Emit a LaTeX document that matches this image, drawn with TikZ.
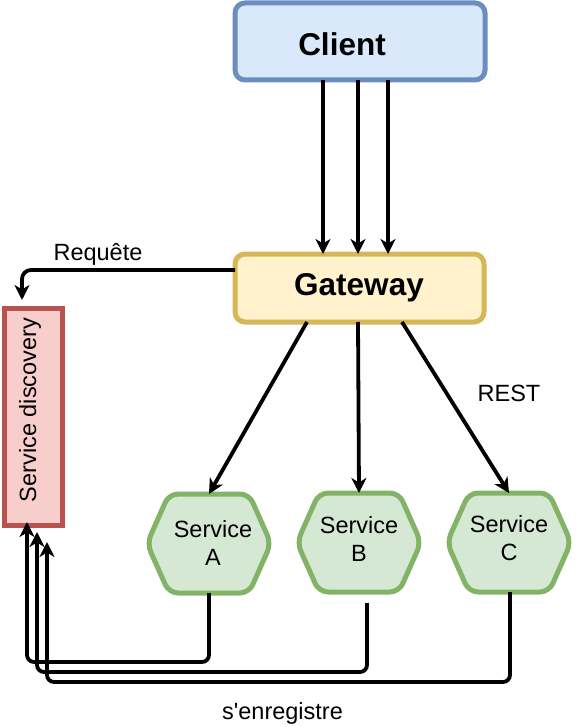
\documentclass[tikz,border=0pt]{standalone}
\usepackage{fontspec}
\setmainfont{Liberation Sans}[Ligatures=TeXOff]
\usetikzlibrary{arrows.meta}
\definecolor{clientfill}{HTML}{DAE8FC}
\definecolor{clientdraw}{HTML}{6C8EBF}
\definecolor{gatefill}{HTML}{FFF2CC}
\definecolor{gatedraw}{HTML}{D6B656}
\definecolor{sdfill}{HTML}{F8CECC}
\definecolor{sddraw}{HTML}{B85450}
\definecolor{svcfill}{HTML}{D5E8D4}
\definecolor{svcdraw}{HTML}{82B366}
\tikzset{
  box/.style={rectangle, rounded corners=10pt, line width=5pt, inner sep=0pt, outer sep=0pt},
  hexnode/.style={rectangle, inner sep=0pt, outer sep=0pt, minimum width=124pt, minimum height=99pt},
  hexshape/.style={line width=5pt, rounded corners=9pt, draw=svcdraw, fill=svcfill},
  bigtxt/.style={font=\fontsize{31.5}{36}\selectfont\bfseries, inner sep=0pt},
  txt/.style={font=\fontsize{23.5}{28}\selectfont, inner sep=0pt, align=center},
  arr/.style={line width=3.8pt, -{Stealth[length=15pt,width=15pt,inset=4.5pt]}},
  conn/.style={arr, rounded corners=7pt}
}
\newcommand\hexdraw[1]{%
  \draw[hexshape] (#1.west) -- ([xshift=22pt]#1.north west) -- ([xshift=-22pt]#1.north east)
    -- (#1.east) -- ([xshift=-22pt]#1.south east) -- ([xshift=22pt]#1.south west) -- cycle;}
\begin{document}
\begin{tikzpicture}[x=1pt,y=-1pt]
\useasboundingbox (0,0) rectangle (578,727);

% nodes
\node[box, draw=clientdraw, fill=clientfill, minimum width=250pt, minimum height=77pt] (client) at (360,41.5) {};
\node[bigtxt] (clientlbl) at (342,44) {Client};
\node[box, draw=gatedraw, fill=gatefill, minimum width=249pt, minimum height=68pt] (gateway) at (359.5,288) {};
\node[bigtxt] (gatelbl) at (359,288) {Gateway};
\node[box, rounded corners=0pt, draw=sddraw, fill=sdfill, minimum width=58.5pt, minimum height=217.5pt] (sd) at (33.25,416.75) {};
\node[txt, rotate=90] (sdlbl) at (30,410) {Service discovery};

\node[hexnode] (hexA) at (209,543.5) {};
\node[hexnode] (hexB) at (359,542.5) {};
\node[hexnode] (hexC) at (509,542.5) {};
\hexdraw{hexA}
\hexdraw{hexB}
\hexdraw{hexC}
\node[txt] (la) at (213,543) {Service\\A};
\node[txt] (lb) at (359,538.5) {Service\\B};
\node[txt] (lc) at (509,538) {Service\\C};

% client -> gateway
\draw[arr] (client.south -| 323,0) -- (gateway.north -| 323,0);
\draw[arr] (client.south -| 358,0) -- (gateway.north -| 358,0);
\draw[arr] (client.south -| 388,0) -- (gateway.north -| 388,0);

% gateway -> services
\draw[arr] (gateway.south -| 307,0) -- (hexA.north);
\draw[arr] (gateway.south -| 358,0) -- (hexB.north);
\draw[arr] (gateway.south -| 402,0) -- (hexC.north);
\node[txt] (rest) at (509,393) {REST};

% gateway -> service discovery
\coordinate (sdtop) at (22,300);
\draw[conn, rounded corners=9pt] (gateway.west |- 0,270) -- (22,270) -- (sdtop);
\node[txt] (req) at (98,254) {Requête};

% services register
\coordinate (endA) at (27,522);
\coordinate (endB) at (37,532);
\coordinate (endC) at (47,542);
\coordinate (startB) at (367,603);
\draw[conn] (hexA.south) -- (209,662) -- (27,662) -- (endA);
\draw[conn] (startB) -- (367,672) -- (37,672) -- (endB);
\draw[conn] (hexC.south -| 510,0) -- (510,682) -- (47,682) -- (endC);
\node[txt] (reg) at (282.5,713) {s'enregistre};
\end{tikzpicture}
\end{document}
